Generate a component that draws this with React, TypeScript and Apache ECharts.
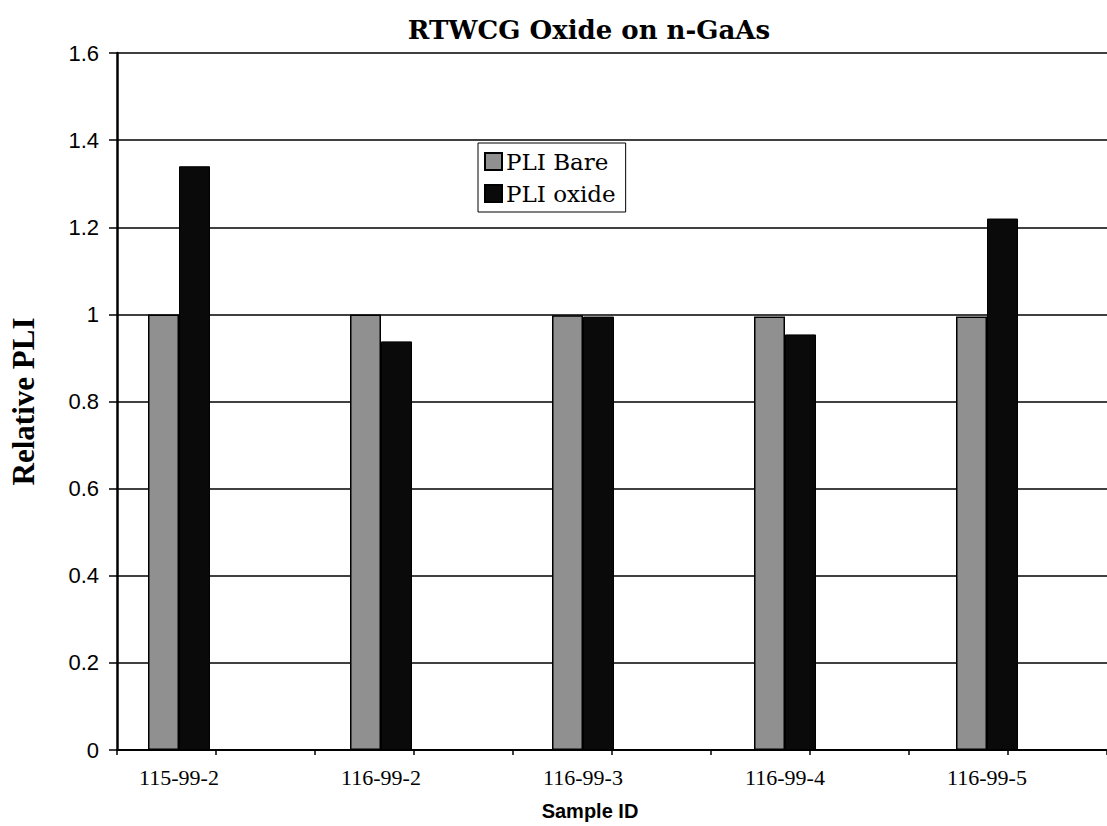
import React, { useEffect, useRef } from "react";
import * as echarts from "echarts";

const categories = ["115-99-2", "116-99-2", "116-99-3", "116-99-4", "116-99-5"];
const pliBare = [1.0, 1.0, 0.998, 0.995, 0.995];
const pliOxide = [1.34, 0.938, 0.995, 0.954, 1.22];
const seriesNames = ["PLI Bare", "PLI oxide"];
const yMin = 0;
const yMax = 1.6;
const yStep = 0.2;

export default function App() {
  const ref = useRef<HTMLDivElement>(null);
  useEffect(() => {
    if (!ref.current) return;
    const chart = echarts.init(ref.current, undefined, { renderer: "svg" });
    const gridTop = 53;
    const gridBottom = 76;
    chart.setOption({
      animation: false,
      backgroundColor: "#ffffff",
      title: {
        text: "RTWCG Oxide on n-GaAs",
        left: 584,
        textAlign: "center",
        top: 12,
        textStyle: {
          fontFamily: "DejaVu Serif",
          fontWeight: "bold",
          fontSize: 26,
          color: "#000",
        },
      },
      legend: {
        orient: "vertical",
        left: 478,
        top: 143,
        data: seriesNames,
        icon: "rect",
        itemWidth: 17,
        itemHeight: 17,
        itemGap: 9,
        padding: [7, 10, 7, 6],
        borderColor: "#000",
        borderWidth: 1,
        backgroundColor: "#fff",
        textStyle: {
          fontFamily: "DejaVu Serif",
          fontSize: 23,
          color: "#000",
          padding: [0, 0, 0, -1],
        },
      },
      grid: [
        { left: 115, right: -2, top: gridTop, bottom: gridBottom },
        { left: 78, right: 19, top: gridTop, bottom: gridBottom },
      ],
      xAxis: [
        {
          gridIndex: 0,
          type: "value",
          min: 0,
          max: 10,
          interval: 1,
          axisLine: { show: true, lineStyle: { color: "#000", width: 2 } },
          axisTick: { show: true, length: 5, lineStyle: { color: "#000", width: 1.5 } },
          axisLabel: { show: false },
          splitLine: { show: false },
        },
        {
          gridIndex: 1,
          type: "category",
          data: categories,
          boundaryGap: true,
          axisLine: { show: false },
          axisTick: { show: false },
          axisLabel: {
            margin: 16,
            fontFamily: "Liberation Serif",
            fontSize: 22,
            color: "#000",
          },
          name: "Sample ID",
          nameLocation: "middle",
          nameGap: 51,
          nameTextStyle: {
            fontFamily: "Liberation Sans",
            fontWeight: "bold",
            fontSize: 20,
            color: "#000",
            padding: [0, 0, 0, 14],
          },
        },
      ],
      yAxis: [
        {
          gridIndex: 0,
          type: "value",
          min: yMin,
          max: yMax,
          interval: yStep,
          axisLine: { show: true, lineStyle: { color: "#000", width: 2.5 } },
          axisTick: { show: true, length: 8, lineStyle: { color: "#000", width: 1.5 } },
          axisLabel: {
            margin: 18,
            fontFamily: "Liberation Sans",
            fontSize: 22,
            color: "#000",
          },
          splitLine: { show: true, lineStyle: { color: "#000", width: 1.5 } },
          name: "Relative PLI",
          nameLocation: "middle",
          nameGap: 78,
          nameTextStyle: {
            fontFamily: "Liberation Serif",
            fontWeight: "bold",
            fontSize: 31,
            color: "#000",
          },
        },
        {
          gridIndex: 1,
          type: "value",
          min: yMin,
          max: yMax,
          interval: yStep,
          show: false,
          splitLine: { show: false },
        },
      ],
      series: [
        {
          name: seriesNames[0],
          type: "bar",
          xAxisIndex: 1,
          yAxisIndex: 1,
          data: pliBare,
          barWidth: 31,
          barGap: "0%",
          itemStyle: { color: "#909090", borderColor: "#000", borderWidth: 1.5 },
        },
        {
          name: seriesNames[1],
          type: "bar",
          xAxisIndex: 1,
          yAxisIndex: 1,
          data: pliOxide,
          barWidth: 31,
          barGap: "0%",
          itemStyle: { color: "#0a0a0a", borderColor: "#000", borderWidth: 1 },
        },
      ],
    });
    return () => chart.dispose();
  }, []);
  return (
    <div
      ref={ref}
      style={{ position: "absolute", left: 0, top: 0, width: 1107, height: 826 }}
    />
  );
}
